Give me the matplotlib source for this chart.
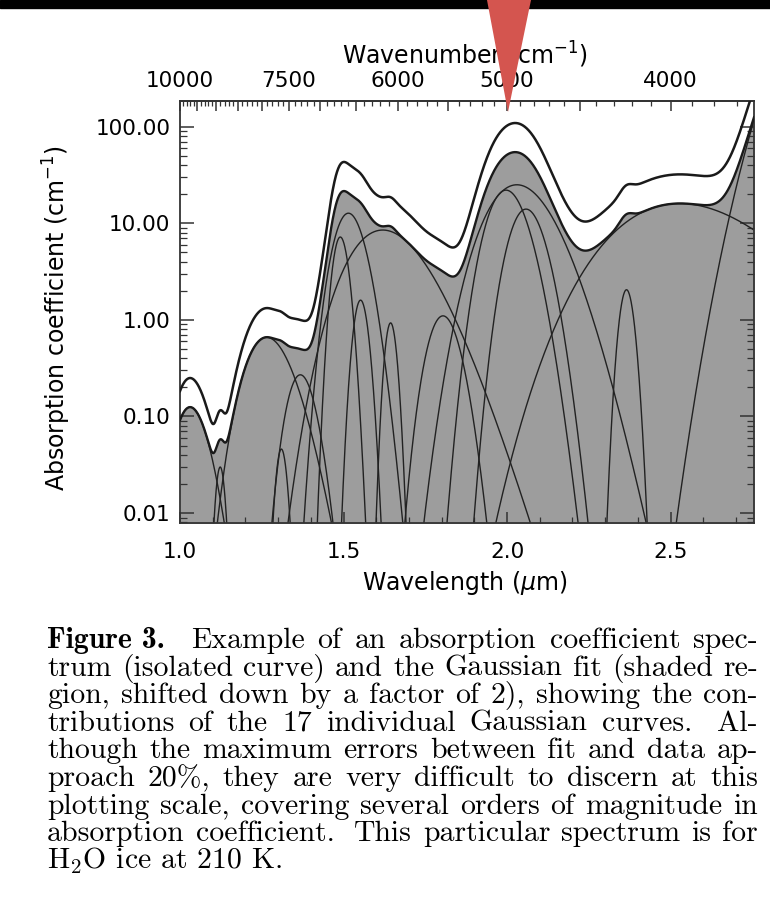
import numpy as np
import matplotlib.pyplot as plt
from matplotlib.patches import Polygon, Rectangle
from matplotlib.ticker import FixedLocator, LogLocator, NullFormatter, FuncFormatter

# 17 gaussian components of the fit (in wavenumber, cm^-1)
nu_center = [9700, 8905, 7905, 7634, 7310, 6711, 6601, 6443, 6173,
             6083, 5543, 5008, 4926, 4859, 4228, 3956, 3188]
peak_abs = [0.125, 0.03, 0.66, 0.046, 0.27, 7.2, 12.7, 1.6, 8.5,
            0.93, 1.1, 22.0, 25.0, 14.0, 2.05, 16.0, 10000.0]
nu_sigma = [380, 95, 360, 82, 187, 90, 170, 77, 360,
            55, 122, 125, 200, 106, 33, 290, 148]
data_shift = 2.0   # fit shown shifted down by factor 2

top_ticks = [10000, 7500, 6000, 5000, 4000]
y_ticks = [0.01, 0.1, 1.0, 10.0, 100.0]
x_ticks = [1.0, 1.5, 2.0, 2.5]

caption = [
    'Example of an absorption coefficient spec-',
    'trum (isolated curve) and the Gaussian fit (shaded re-',
    'gion, shifted down by a factor of 2), showing the con-',
    'tributions of the 17 individual Gaussian curves.  Al-',
    'though the maximum errors between fit and data ap-',
    'proach 20%, they are very difficult to discern at this',
    'plotting scale, covering several orders of magnitude in',
    'absorption coefficient.  This particular spectrum is for',
]
caption_last = r'H$_2$O ice at 210 K.'

W, H = 770, 911
fig = plt.figure(figsize=(W / 100, H / 100), dpi=100)
ax = fig.add_axes([180 / W, 1 - 523 / H, 574 / W, 422 / H])

lam = np.linspace(1.0, 2.755, 2000)
nu = 1e4 / lam
comps = []
for c, a, s in zip(nu_center, peak_abs, nu_sigma):
    comps.append(a * np.exp(-0.5 * ((nu - c) / s) ** 2))
fit = np.sum(comps, axis=0)

ax.fill_between(lam, 1e-5, fit, color='#9d9d9d', lw=0, zorder=1)
for g in comps:
    ax.plot(lam, np.maximum(g, 1e-6), color='#222222', lw=1.0, zorder=2)
ax.plot(lam, fit, color='#1a1a1a', lw=1.7, zorder=3)
ax.plot(lam, fit * data_shift, color='#1a1a1a', lw=1.8, zorder=3)

ax.set_yscale('log')
ax.set_xlim(1.0, 2.755)
ax.set_ylim(0.0079, 184)

ax.xaxis.set_major_locator(FixedLocator(x_ticks))
ax.xaxis.set_minor_locator(FixedLocator(np.arange(1.0, 2.76, 0.1)))
ax.xaxis.set_major_formatter(FuncFormatter(lambda v, p: '%.1f' % v))
ax.yaxis.set_major_locator(FixedLocator(y_ticks))
ax.yaxis.set_minor_locator(LogLocator(base=10, subs=np.arange(2, 10)))
ax.yaxis.set_major_formatter(FuncFormatter(lambda v, p: '%.2f' % v))
ax.yaxis.set_minor_formatter(NullFormatter())

ax.tick_params(which='both', direction='in', right=True, top=False,
               color='#333333', labelsize=15.5)
ax.tick_params(axis='y', which='major', length=10, width=1.1, pad=7)
ax.tick_params(axis='y', which='minor', length=5, width=0.9)
ax.tick_params(axis='x', which='major', length=8, width=1.1, pad=14)
ax.tick_params(axis='x', which='minor', length=4, width=0.9)
for sp in ax.spines.values():
    sp.set_color('#333333')
    sp.set_linewidth(1.3)


def to_nu(x):
    x = np.asarray(x, dtype=float)
    return 1e4 / np.where(x == 0, 1e-9, x)


sec = ax.secondary_xaxis('top', functions=(to_nu, to_nu))
sec.xaxis.set_major_locator(FixedLocator(np.arange(3500, 10001, 500)))
sec.xaxis.set_minor_locator(FixedLocator(np.arange(3600, 10001, 100)))
sec.xaxis.set_major_formatter(
    FuncFormatter(lambda v, p: '%d' % v if int(round(v)) in top_ticks else ''))
sec.tick_params(which='both', direction='in', color='#333333', labelsize=15.5)
sec.tick_params(which='major', length=7, width=1.1, pad=7)
sec.tick_params(which='minor', length=3.5, width=0.9)
sec.spines['top'].set_color('#333333')
sec.spines['top'].set_linewidth(1.3)

fig.text(465 / W, 1 - 55 / H, 'Wavenumber (cm$^{-1}$)', ha='center',
         va='center', fontsize=17)
fig.text(465 / W, 1 - 583 / H, r'Wavelength ($\mu$m)', ha='center',
         va='center', fontsize=17)
fig.text(57 / W, 1 - 318 / H, 'Absorption coefficient (cm$^{-1}$)',
         ha='center', va='center', rotation=90, fontsize=17)

# justified caption, word by word
renderer = fig.canvas.get_renderer()
x_left, x_right = 47, 758
base0, step = 648, 27.6


def natural_width(fs):
    widest = 0
    for i, line in enumerate(caption):
        words = line.split()
        if i == 0:
            words = ['Figure 3.'] + words
        t = fig.text(0, 0, ''.join(words), family='cmr10', fontsize=fs)
        w = t.get_window_extent(renderer).width
        t.remove()
        w += (len(words) - 1) * 0.333 * fs * 100 / 72
        widest = max(widest, w)
    return widest


fs = 16.0
fs = fs * (x_right - x_left) / natural_width(fs) * 0.995

for i, line in enumerate(caption):
    y = 1 - (base0 + i * step) / H
    words = line.split()
    arts = []
    gaps = []
    if i == 0:
        arts.append(fig.text(0, y, 'Figure 3.', family='cmb10', fontsize=fs,
                             va='baseline'))
        gaps.append(2.0)
    prev = None
    for j, wd in enumerate(words):
        arts.append(fig.text(0, y, wd, family='cmr10', fontsize=fs,
                             va='baseline'))
        if j > 0:
            extra = 1.8 if prev.endswith('.') and len(prev) > 3 else 1.0
            gaps.append(extra)
        prev = wd
    widths = [a.get_window_extent(renderer).width for a in arts]
    free = (x_right - x_left) - sum(widths)
    unit = free / sum(gaps)
    xp = x_left
    for k, a in enumerate(arts):
        a.set_x(xp / W)
        xp += widths[k]
        if k < len(gaps):
            xp += gaps[k] * unit
fig.text(x_left / W, 1 - (base0 + 8 * step) / H, caption_last, family='cmr10',
         fontsize=fs, va='baseline', math_fontfamily='cm')

# scan frame bits
fig.add_artist(Rectangle((0, 1 - 8 / H), 1, 8 / H, transform=fig.transFigure,
                         color='black', zorder=9))
fig.add_artist(Polygon([(487 / W, 1), (531 / W, 1), (508 / W, 1 - 112 / H)],
                       closed=True, transform=fig.transFigure,
                       color='#d4554f', lw=0, zorder=10))

fig.savefig('out.png', dpi=100)
